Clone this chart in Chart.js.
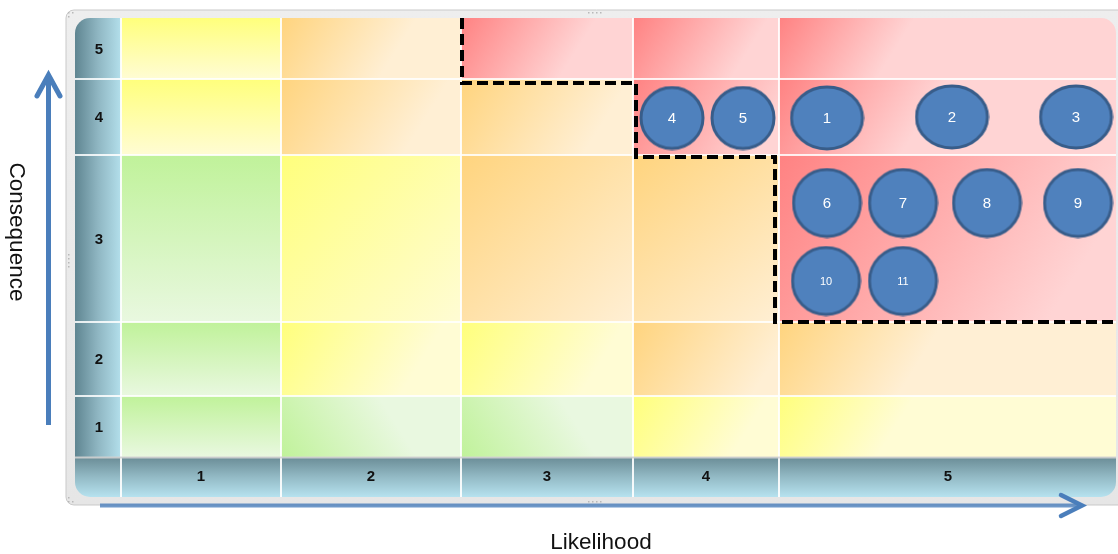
<!DOCTYPE html>
<html>
<head>
<meta charset="utf-8">
<title>Risk matrix</title>
<script src="https://cdn.jsdelivr.net/npm/chart.js@4.4.1/dist/chart.umd.min.js"></script>
<style>
  html, body { margin: 0; padding: 0; background: #ffffff; }
  #wrap { width: 1118px; height: 554px; }
</style>
</head>
<body>
<div id="wrap"><canvas id="matrix" width="1118" height="554"></canvas></div>
<script>
// Axis categories
const likelihoodLabels = ['1', '2', '3', '4', '5'];
const consequenceLabels = ['1', '2', '3', '4', '5'];

// Band edges of each category along its axis (grid units)
const likelihoodEdges = [0, 160, 340, 512, 658, 996];
const consequenceEdges = [0, 61, 135, 302, 378, 439];

// Rating of every cell, one row per consequence level (1 = bottom)
const cellRatings = [
  ['G', 'G', 'G', 'Y', 'Y'],
  ['G', 'Y', 'Y', 'O', 'O'],
  ['G', 'Y', 'O', 'O', 'R'],
  ['Y', 'O', 'O', 'R', 'R'],
  ['Y', 'O', 'R', 'R', 'R']
];

// Risks plotted on the grid
const riskIds = ['1', '2', '3', '4', '5', '6', '7', '8', '9', '10', '11'];
const riskLikelihood = [706, 831, 955, 551, 622, 706, 782, 866, 957, 705, 782];
const riskConsequence = [339, 340, 340, 339, 339, 254, 254, 254, 254, 176, 176];

// Tolerance boundary (stepped dashed line)
const boundaryX = [341, 341, 515, 515, 654, 654, 997];
const boundaryY = [439, 374, 374, 300, 300, 135, 135];

const FONT = '"Liberation Sans", Arial, sans-serif';

const zoneColors = {
  G: ['#c0f29a', '#e9f8e0'],
  Y: ['#ffff7c', '#fffcd4'],
  O: ['#ffd47e', '#ffefd4'],
  R: ['#ff8282', '#ffd4d4']
};

function roundRectPath(ctx, x, y, w, h, r) {
  ctx.beginPath();
  ctx.moveTo(x + r, y);
  ctx.lineTo(x + w - r, y);
  ctx.arcTo(x + w, y, x + w, y + r, r);
  ctx.lineTo(x + w, y + h - r);
  ctx.arcTo(x + w, y + h, x + w - r, y + h, r);
  ctx.lineTo(x + r, y + h);
  ctx.arcTo(x, y + h, x, y + h - r, r);
  ctx.lineTo(x, y + r);
  ctx.arcTo(x, y, x + r, y, r);
  ctx.closePath();
}

// Ellipse marker bitmaps used as point styles
function makeMarker(rx, ry) {
  const c = document.createElement('canvas');
  c.width = Math.ceil(rx * 2 + 4);
  c.height = Math.ceil(ry * 2 + 4);
  const g = c.getContext('2d');
  g.beginPath();
  g.ellipse(c.width / 2, c.height / 2, rx, ry, 0, 0, Math.PI * 2);
  g.fillStyle = '#4f81bd';
  g.fill();
  g.lineWidth = 3;
  g.strokeStyle = '#385d8a';
  g.stroke();
  return c;
}
const wideMarker = makeMarker(35.5, 31);
const smallMarker = makeMarker(31, 30.5);
const roundMarker = makeMarker(33.5, 33.5);

function markerFor(i) {
  const id = riskIds[i];
  if (id === '1' || id === '2' || id === '3') return wideMarker;
  if (id === '4' || id === '5') return smallMarker;
  return roundMarker;
}

const matrixPlugin = {
  id: 'matrixPlugin',
  beforeDatasetsDraw(chart) {
    const ctx = chart.ctx;
    const xs = chart.scales.x, ys = chart.scales.y;
    const area = chart.chartArea;
    const panelL = area.left - 46, panelT = area.top, panelR = area.right - 1, panelB = area.bottom + 40;

    ctx.save();
    // outer frame
    roundRectPath(ctx, 66, 10, 1070, 495, 8);
    const fg = ctx.createLinearGradient(0, 10, 0, 505);
    fg.addColorStop(0, '#eeeeee');
    fg.addColorStop(1, '#e6e6e6');
    ctx.fillStyle = fg;
    ctx.fill();
    ctx.lineWidth = 1;
    ctx.strokeStyle = '#c9c9c9';
    ctx.stroke();

    // panel clip
    roundRectPath(ctx, panelL, panelT, panelR - panelL, panelB - panelT, 15);
    ctx.save();
    ctx.clip();

    // row header
    const rh = ctx.createLinearGradient(panelL, 0, area.left, 0);
    rh.addColorStop(0, '#5f8591');
    rh.addColorStop(0.5, '#8fb6c2');
    rh.addColorStop(1, '#b3dfeb');
    ctx.fillStyle = rh;
    ctx.fillRect(panelL, panelT, area.left - panelL, area.bottom - panelT);

    // column header
    const ch = ctx.createLinearGradient(0, area.bottom, 0, panelB);
    ch.addColorStop(0, '#6a8c96');
    ch.addColorStop(0.5, '#93bac5');
    ch.addColorStop(1, '#b6e2ef');
    ctx.fillStyle = ch;
    ctx.fillRect(panelL, area.bottom, panelR - panelL + 2, panelB - area.bottom);

    // cells
    for (let r = 0; r < consequenceLabels.length; r++) {
      const y0 = ys.getPixelForValue(consequenceEdges[r + 1]);
      const y1 = ys.getPixelForValue(consequenceEdges[r]);
      for (let c = 0; c < likelihoodLabels.length; c++) {
        const x0 = xs.getPixelForValue(likelihoodEdges[c]);
        const x1 = xs.getPixelForValue(likelihoodEdges[c + 1]);
        const rating = cellRatings[r][c];
        const cols = zoneColors[rating];
        const w = x1 - x0, h = y1 - y0;
        const reach = Math.min(w, h * 1.6);
        let g;
        if (c === 0) {
          g = ctx.createLinearGradient(x0, y0, x0, y1);
        } else if (rating === 'G') {
          // low-risk cells shade from the lower-left corner
          g = ctx.createLinearGradient(x0, y1, x0 + reach, y0);
        } else {
          g = ctx.createLinearGradient(x0, y0, x0 + reach, y1);
        }
        g.addColorStop(0, cols[0]);
        g.addColorStop(1, cols[1]);
        ctx.fillStyle = g;
        ctx.fillRect(x0, y0, w + 2, h);
      }
    }

    // grid lines
    ctx.strokeStyle = 'rgba(255,255,255,0.85)';
    ctx.lineWidth = 2;
    consequenceEdges.slice(1, -1).forEach(v => {
      const y = Math.round(ys.getPixelForValue(v));
      ctx.beginPath();
      ctx.moveTo(panelL, y);
      ctx.lineTo(panelR + 2, y);
      ctx.stroke();
    });
    ctx.strokeStyle = 'rgba(255,255,255,0.9)';
    likelihoodEdges.slice(0, -1).forEach(v => {
      const x = Math.round(xs.getPixelForValue(v));
      ctx.beginPath();
      ctx.moveTo(x, panelT);
      ctx.lineTo(x, panelB);
      ctx.stroke();
    });
    ctx.strokeStyle = 'rgba(210,210,210,0.9)';
    ctx.beginPath();
    ctx.moveTo(panelL, Math.round(area.bottom) + 0.5);
    ctx.lineTo(panelR + 2, Math.round(area.bottom) + 0.5);
    ctx.stroke();
    ctx.restore();

    // header numbers
    ctx.fillStyle = '#111111';
    ctx.font = 'bold 15px ' + FONT;
    ctx.textAlign = 'center';
    ctx.textBaseline = 'middle';
    consequenceLabels.forEach((lab, i) => {
      const y = ys.getPixelForValue((consequenceEdges[i] + consequenceEdges[i + 1]) / 2);
      ctx.fillText(lab, (panelL + area.left) / 2 + 1, y + 1);
    });
    likelihoodLabels.forEach((lab, i) => {
      const x = xs.getPixelForValue((likelihoodEdges[i] + likelihoodEdges[i + 1]) / 2);
      ctx.fillText(lab, x, area.bottom + 20);
    });

    // frame handle dots
    ctx.fillStyle = '#b8b8b8';
    const dots = (x, y, n, dx, dy) => {
      for (let k = 0; k < n; k++) ctx.fillRect(x + k * dx, y + k * dy, 1.5, 1.5);
    };
    dots(588, 12, 4, 4, 0);
    dots(588, 501, 4, 4, 0);
    dots(68, 254, 4, 0, 4);
    dots(68, 12, 2, 4, 0);
    dots(68, 16, 1, 0, 0);
    dots(68, 497, 1, 0, 0);
    dots(68, 501, 2, 4, 0);
    ctx.restore();
  },
  afterDatasetsDraw(chart) {
    const ctx = chart.ctx;
    const meta = chart.getDatasetMeta(1);
    ctx.save();
    ctx.fillStyle = '#ffffff';
    ctx.textAlign = 'center';
    ctx.textBaseline = 'middle';
    meta.data.forEach((pt, i) => {
      const id = riskIds[i];
      ctx.font = (id.length > 1 ? '11px ' : '15px ') + FONT;
      ctx.fillText(id, pt.x, pt.y + 1);
    });
    ctx.restore();
  },
  afterDraw(chart) {
    const ctx = chart.ctx;
    ctx.save();
    // axis titles
    ctx.fillStyle = '#111111';
    ctx.font = '22.5px ' + FONT;
    ctx.textAlign = 'center';
    ctx.textBaseline = 'middle';
    ctx.fillText('Likelihood', 601, 543);
    ctx.translate(16, 232);
    ctx.rotate(Math.PI / 2);
    ctx.fillText('Consequence', 0, 0);
    ctx.restore();

    // direction arrows
    ctx.save();
    ctx.strokeStyle = '#4a7ebb';
    ctx.lineCap = 'butt';
    ctx.lineJoin = 'miter';
    ctx.lineWidth = 5;
    ctx.beginPath();
    ctx.moveTo(48.5, 425);
    ctx.lineTo(48.5, 78);
    ctx.stroke();
    ctx.lineCap = 'round';
    ctx.beginPath();
    ctx.moveTo(37, 96);
    ctx.lineTo(48.5, 75);
    ctx.lineTo(60, 96);
    ctx.stroke();

    ctx.strokeStyle = 'rgba(74,126,187,0.8)';
    ctx.lineCap = 'butt';
    ctx.lineWidth = 4;
    ctx.beginPath();
    ctx.moveTo(100, 505.5);
    ctx.lineTo(1080, 505.5);
    ctx.stroke();
    ctx.strokeStyle = '#4a7ebb';
    ctx.lineCap = 'round';
    ctx.lineWidth = 4.5;
    ctx.beginPath();
    ctx.moveTo(1061, 495);
    ctx.lineTo(1082, 505.5);
    ctx.lineTo(1061, 516);
    ctx.stroke();
    ctx.restore();
  }
};

const boundaryData = boundaryX.map((x, i) => ({ x, y: boundaryY[i] }));
const riskData = riskIds.map((id, i) => ({ x: riskLikelihood[i], y: riskConsequence[i] }));

new Chart(document.getElementById('matrix'), {
  type: 'scatter',
  data: {
    datasets: [
      {
        label: 'Tolerance boundary',
        data: boundaryData,
        showLine: true,
        borderColor: '#000000',
        borderWidth: 4,
        borderDash: [11, 5],
        borderCapStyle: 'butt',
        borderJoinStyle: 'miter',
        pointRadius: 0,
        fill: false,
        clip: false,
        order: 2
      },
      {
        label: 'Risks',
        data: riskData,
        pointStyle: ctx => markerFor(ctx.dataIndex),
        pointRadius: 34,
        clip: false,
        order: 1
      }
    ]
  },
  options: {
    responsive: false,
    devicePixelRatio: 1,
    animation: false,
    layout: { autoPadding: false, padding: { left: 121, top: 18, right: 1, bottom: 97 } },
    plugins: {
      legend: { display: false },
      tooltip: { enabled: false }
    },
    scales: {
      x: { type: 'linear', min: likelihoodEdges[0], max: likelihoodEdges[likelihoodEdges.length - 1], display: false },
      y: { type: 'linear', min: consequenceEdges[0], max: consequenceEdges[consequenceEdges.length - 1], display: false }
    }
  },
  plugins: [matrixPlugin]
});
</script>
</body>
</html>
